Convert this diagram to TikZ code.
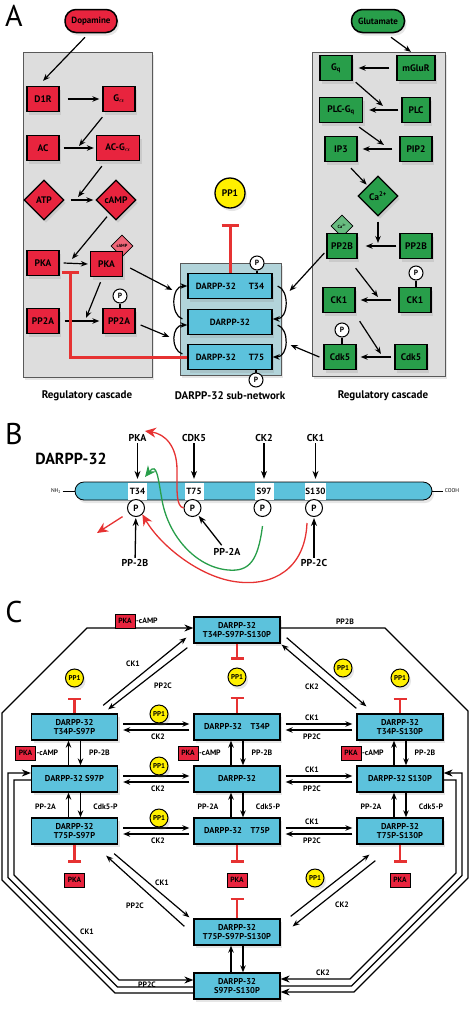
\documentclass[tikz,border=0pt]{standalone}
\usepackage{fontspec}
\setmainfont{PT Sans}
\usetikzlibrary{arrows.meta,shapes.geometric,shadows,positioning}

\definecolor{dred}{RGB}{232,36,62}
\definecolor{dgreen}{RGB}{40,158,74}
\definecolor{cblue}{RGB}{92,194,220}
\definecolor{cgray}{RGB}{221,221,221}
\definecolor{subnet}{RGB}{178,212,218}
\definecolor{pyellow}{RGB}{255,240,0}
\definecolor{ired}{RGB}{230,50,50}

\tikzset{
  shad/.style={drop shadow={opacity=0.2, shadow xshift=2pt, shadow yshift=-3pt}},
  panlab/.style={font=\fontsize{30}{30}\selectfont, inner sep=0pt},
  sublab/.style={font=\bfseries\fontsize{11}{12}\selectfont},
  cascade/.style={draw=black!65, line width=0.8pt, fill=cgray, shad},
  subbox/.style={draw=black!65, line width=0.8pt, fill=subnet, shad},
  abox/.style={draw, line width=1.3pt, minimum width=32, minimum height=25, inner sep=1pt, font=\bfseries\fontsize{9.5}{10}\selectfont, shad},
  redbox/.style={abox, fill=dred},
  grnbox/.style={abox, fill=dgreen},
  dbox/.style={abox, fill=cblue, minimum width=84, font=\bfseries\fontsize{9}{10}\selectfont},
  adia/.style={draw, line width=1.3pt, diamond, aspect=1, minimum width=40, minimum height=40, inner sep=0pt, font=\bfseries\fontsize{9.5}{10}\selectfont, shad},
  smdia/.style={draw, line width=0.8pt, diamond, aspect=1, minimum size=22, inner sep=0pt, font=\bfseries\fontsize{4.5}{4.5}\selectfont},
  pill/.style={draw, line width=1.5pt, rounded corners=11pt, minimum height=23, inner xsep=3pt, font=\bfseries\fontsize{9}{10}\selectfont, shad},
  pcirc/.style={draw, circle, fill=white, line width=1pt, inner sep=0pt, minimum size=14, font=\bfseries\fontsize{7.5}{7.5}\selectfont},
  pp1big/.style={draw, circle, fill=pyellow, line width=1.3pt, minimum size=30, inner sep=0pt, font=\bfseries\fontsize{9.5}{10}\selectfont, shad},
  inh/.style={draw=ired, line width=3pt, -{Bar[width=17pt]}},
  prot/.style={draw, line width=0.8pt, fill=cblue, rounded corners=9pt, minimum width=357, minimum height=18, inner sep=0pt, shad},
  slot/.style={fill=white, minimum width=19, minimum height=17, inner sep=0pt, font=\bfseries\fontsize{9}{9}\selectfont},
  pcircb/.style={pcirc, minimum size=17, font=\bfseries\fontsize{9}{9}\selectfont},
  kin/.style={font=\bfseries\fontsize{10}{11}\selectfont, inner sep=1pt},
  barr/.style={line width=1.3pt, -{Stealth[length=8pt,width=6pt]}},
  redarr/.style={draw=ired, line width=1.3pt, -{Stealth[length=11pt,width=10pt]}},
  grnarr/.style={draw=dgreen, line width=1.3pt, -{Stealth[length=11pt,width=10pt]}},
  cbox/.style={draw, line width=1.3pt, fill=cblue, minimum width=86, minimum height=26, inner sep=1pt, align=center, font=\bfseries\fontsize{8.5}{9}\selectfont, shad},
  pp1s/.style={draw, circle, fill=pyellow, line width=1pt, minimum size=18, inner sep=0pt, font=\bfseries\fontsize{7}{7}\selectfont, shad},
  clab/.style={font=\bfseries\fontsize{7.8}{8.5}\selectfont, inner sep=1pt},
  pkasm/.style={draw, line width=1pt, fill=dred, minimum width=20, minimum height=14, inner sep=0pt, font=\bfseries\fontsize{7.5}{7.5}\selectfont},
  cinh/.style={draw=ired, line width=2.5pt, -{Bar[width=13pt]}},
  oarr/.style={line width=1.1pt, -{Stealth[length=9pt,width=7pt]}}
}

\begin{document}
\begin{tikzpicture}[x=1pt, y=-1pt, line width=1.2pt, >={Stealth[length=7pt,width=5.5pt]}]
\useasboundingbox (0,0) rectangle (475,1015);

% A: signalling cascades
\node[panlab] (labA) at (14,16) {A};
\node[cascade, minimum width=129, minimum height=325] (lcas) at (87.5,214.5) {};
\node[cascade, minimum width=133, minimum height=324] (rcas) at (378.5,214) {};
\node[subbox, minimum width=101, minimum height=112] (sub) at (230.5,319) {};
\node[sublab] (llab) at (87,396) {Regulatory cascade};
\node[sublab] (clab) at (230,396) {DARPP-32 sub-network};
\node[sublab] (rlab) at (383,396) {Regulatory cascade};

\node[pill, fill=dred, minimum width=52] (dopa) at (91,21) {Dopamine};
\node[redbox] (d1r) at (43,99) {D1R};
\node[redbox] (galpha) at (119,99) {G\textsubscript{$\alpha$}};
\node[redbox] (ac) at (43,148) {AC};
\node[redbox, minimum width=43] (acg) at (118,148) {AC-G\textsubscript{$\alpha$}};
\node[adia, fill=dred] (atp) at (44,200) {ATP};
\node[adia, fill=dred] (camp) at (116,200) {cAMP};
\node[redbox] (pka) at (43,263) {PKA};
\node[smdia, fill=dred!70!white] (campd) at (122,246) {cAMP};
\node[redbox] (pkaa) at (106.5,264) {PKA};
\node[redbox] (pp2a) at (43,321) {PP2A};
\node[redbox] (pp2aa) at (119,321) {PP2A};
\node[pcirc] (ppp2a) at (120,296) {P};
\draw (ppp2a.south) -- (ppp2a.south |- pp2aa.north);

\node[dbox] (dt34) at (230,286) {DARPP-32\hspace{13pt}T34};
\node[dbox] (dmid) at (230,322) {DARPP-32};
\node[dbox] (dt75) at (230,357) {DARPP-32\hspace{13pt}T75};
\node[pcirc] (pdt34) at (257,263) {P};
\draw (pdt34.south) -- (pdt34.south |- dt34.north);
\node[pcirc] (pdt75) at (256,380) {P};
\draw (pdt75.north) -- (pdt75.north |- dt75.south);
\node[pp1big] (pp1a) at (230,193) {PP1};
\draw[inh] (dt34.north) -- ([shift={(0,15)}]pp1a.south);

\node[pill, fill=dgreen, minimum width=53] (glu) at (378,21) {Glutamate};
\node[grnbox] (gq) at (336,68) {G\textsubscript{q}};
\node[grnbox, minimum width=38] (mglur) at (416,68) {mGluR};
\node[grnbox, minimum width=43] (plcgq) at (341,110) {PLC-G\textsubscript{q}};
\node[grnbox, minimum width=28] (plc) at (416,110) {PLC};
\node[grnbox] (ip3) at (341,149) {IP3};
\node[grnbox] (pip2) at (416,149) {PIP2};
\node[adia, fill=dgreen] (ca) at (378,196) {Ca\textsuperscript{2+}};
\node[smdia, fill=dgreen!70!white] (cad) at (342,226) {Ca\textsuperscript{2+}};
\node[grnbox, minimum width=30] (pp2ba) at (342,246) {PP2B};
\node[grnbox] (pp2b) at (416,246) {PP2B};
\node[grnbox] (ck1a) at (339,300) {CK1};
\node[grnbox] (ck1) at (415,300) {CK1};
\node[pcirc] (pck1) at (416,273) {P};
\draw (pck1.south) -- (pck1.south |- ck1.north);
\node[grnbox] (cdk5a) at (340,357) {Cdk5};
\node[grnbox] (cdk5) at (411,357) {Cdk5};
\node[pcirc] (pcdk5) at (342,330) {P};
\draw (pcdk5.south) -- (pcdk5.south |- cdk5a.north);

\coordinate (m1) at (79,146);
\coordinate (m2) at (78,197);
\coordinate (m3) at (72,259);
\coordinate (m4) at (70,271);
\coordinate (m5) at (86,318);
\draw[->] ([shift={(-6,4)}]dopa.south) -- ([shift={(0,-5)}]d1r.north);
\draw[->] ([shift={(8,0)}]d1r.east) -- ([shift={(-3,0)}]galpha.west);
\draw[->] ([shift={(0,5)}]galpha.south west) -- (m1);
\draw[->] ([shift={(4,0)}]ac.east) -- ([shift={(-2,0)}]acg.west);
\draw[->] ([shift={(6,5)}]acg.south west) -- (m2);
\draw[->] ([shift={(6,0)}]atp.east) -- ([shift={(-2,0)}]camp.west);
\draw[->] ([shift={(-9,-4)}]camp.south) -- (m3);
\draw[->] ([shift={(4,0)}]pka.east) -- ([shift={(-2,0)}]pkaa.west);
\draw[->] ([shift={(-6,5)}]pkaa.south) -- (m5);
\draw[->] ([shift={(5,0)}]pp2a.east) -- ([shift={(-3,0)}]pp2aa.west);
\draw[->] ([shift={(7,4)}]pkaa.east) -- ([shift={(-15,4)}]dt34.west);
\draw[->] ([shift={(5,4)}]pp2aa.east) -- ([shift={(-18,15)}]dmid.west);
\draw[inh] (dt75.west) -| (m4);

\draw[->] ([shift={(-5,-3)}]dmid.west) .. controls +(-12,-4) and +(-16,0) .. (dt34.west);
\draw[->] ([shift={(-5,-3)}]dt75.west) .. controls +(-12,-4) and +(-16,0) .. ([shift={(0,3)}]dmid.west);
\draw[->] ([shift={(5,0)}]dt34.east) .. controls +(12,4) and +(16,0) .. ([shift={(0,-3)}]dmid.east);
\draw[->] ([shift={(5,3)}]dmid.east) .. controls +(12,4) and +(16,0) .. (dt75.east);

\coordinate (m6) at (383,106);
\coordinate (m7) at (384,145);
\coordinate (m8) at (378,243);
\coordinate (m9) at (378,297);
\coordinate (m10) at (381,354);
\draw[->] ([shift={(13,4)}]glu.south) -- ([shift={(-5,-3)}]mglur.north);
\draw[->] ([shift={(-7,0)}]mglur.west) -- ([shift={(6,0)}]gq.east);
\draw[->] ([shift={(3,1)}]gq.south east) -- (m6);
\draw[->] ([shift={(-3,0)}]plc.west) -- ([shift={(6,0)}]plcgq.east);
\draw[->] ([shift={(-4,4)}]plcgq.south east) -- (m7);
\draw[->] ([shift={(-7,0)}]pip2.west) -- ([shift={(5,0)}]ip3.east);
\draw[->] ([shift={(10,6)}]ip3.south) -- ([shift={(-1,-1)}]ca.north west);
\draw[->] ([shift={(0,5)}]ca.south) -- (m8);
\draw[->] ([shift={(-3,0)}]pp2b.west) -- ([shift={(8,0)}]pp2ba.east);
\draw[->] ([shift={(-2,7)}]pp2ba.west) -- ([shift={(17,5)}]dt34.east);
\draw[->] ([shift={(-2,9)}]pp2ba.south east) -- (m9);
\draw[->] ([shift={(-7,0)}]ck1.west) -- ([shift={(5,0)}]ck1a.east);
\draw[->] ([shift={(4,8)}]ck1a.south east) -- (m10);
\draw[->] ([shift={(-3,0)}]cdk5.west) -- ([shift={(4,0)}]cdk5a.east);
\draw[->] ([shift={(-4,0)}]cdk5a.west) -- ([shift={(18,-12)}]dt75.east);

% B: phosphorylation sites
\node[panlab] (labB) at (14,434) {B};
\node[font=\bfseries\fontsize{16}{17}\selectfont] (btitle) at (71,459) {DARPP-32};
\node[prot] (prot) at (253.5,491) {};
\node[font=\fontsize{5.5}{6}\selectfont, inner sep=1pt] (nh2) at (56,491) {NH\textsubscript{2}};
\node[font=\fontsize{5.5}{6}\selectfont, inner sep=1pt] (cooh) at (452,491) {COOH};
\draw[line width=0.6pt] (nh2) -- (prot);
\draw[line width=0.6pt] (prot) -- (cooh);
\foreach \n/\x/\s/\k in {t34/137.5/T34/PKA, t75/194/T75/CDK5, s97/264/S97/CK2, s130/315.5/S130/CK1} {
  \node[slot] (\n) at (\x,491) {\s};
  \node[pcircb] (p\n) at (\x-1.5,508) {P};
  \node[kin] (k\n) at (\x,438) {\k};
  \draw[barr, shorten >=3pt] (k\n) -- (\n);
}
\node[kin] (kpp2b) at (135,563) {PP-2B};
\node[kin] (kpp2a) at (227,552) {PP-2A};
\node[kin] (kpp2c) at (314,563) {PP-2C};
\draw[barr, shorten >=1pt] (kpp2b) -- (pt34);
\draw[barr, shorten >=1pt, shorten <=2pt] (kpp2a) -- (pt75);
\draw[barr, shorten >=1pt] (kpp2c) -- (ps130);
\coordinate (pkaout) at (97,533);
\coordinate (t34hit) at (145,477);
\draw[redarr, shorten <=7pt] (pt34) -- (pkaout);
\draw[redarr] (pt75.west) .. controls (176,506) and (177,492) .. (177,470) .. controls (177,446) and (165,434) .. ([shift={(-3,-7)}]kt34.east);
\draw[grnarr] ([shift={(0,9)}]ps97.south) .. controls (258,560) and (250,572) .. (228,570) .. controls (195,567) and (168,535) .. (162,500) .. controls (158,478) and (157,462) .. (t34hit);
\draw[redarr] ([shift={(-7,6)}]ps130.south) .. controls (305,570) and (272,586) .. (238,582) .. controls (200,578) and (160,545) .. (pt34.south east);

% C: state network
\node[panlab] (labC) at (14,612) {C};
\foreach \n/\x/\y/\t in {
  ctop/237/630/{DARPP-32\\T34P-S97P-S130P},
  ts97/74.5/727/{DARPP-32\\T34P-S97P},
  t34/237/727/{DARPP-32\quad T34P},
  ts130/400/727/{DARPP-32\\T34P-S130P},
  s97/74.5/779/{DARPP-32 S97P},
  d32/237/779/{DARPP-32},
  s130/400/779/{DARPP-32 S130P},
  t75s97/74.5/831/{DARPP-32\\T75P-S97P},
  t75/237/831/{DARPP-32\quad T75P},
  t75s130/400/831/{DARPP-32\\T75P-S130P},
  trip/237/932/{DARPP-32\\T75P-S97P-S130P},
  bot/237/986/{DARPP-32\\S97P-S130P}}
  \node[cbox] (\n) at (\x,\y) {\t};

\foreach \a/\b in {ts97/t34, s97/d32, t75s97/t75, t34/ts130, d32/s130, t75/t75s130} {
  \draw[->] ([shift={(5,-3)}]\a.east) -- ([shift={(-4,-3)}]\b.west);
  \draw[->] ([shift={(-4,3)}]\b.west) -- ([shift={(5,3)}]\a.east);
}
\foreach \a/\b in {ts97/s97, t34/d32, ts130/s130, s97/t75s97, d32/t75, s130/t75s130, trip/bot} {
  \draw[->] ([shift={(-6,0)}]\b.north) -- ([shift={(-6,0)}]\a.south);
  \draw[->] ([shift={(6,0)}]\a.south) -- ([shift={(6,0)}]\b.north);
}
\foreach \y/\n in {727/a, 779/b, 831/c} {
  \node[pp1s] (pph\n) at (159,\y-13) {PP1};
  \node[clab] (ckt\n) at (158,\y+10) {CK2};
  \node[clab] (cko\n) at (312,\y-9) {CK1};
  \node[clab] (ppc\n) at (312,\y+10) {PP2C};
}
\foreach \x/\n in {74.5/l, 237/m, 400/r} {
  \node[pkasm] (pkc\n) at (\x-49,753) {PKA};
  \node[clab, right=-1pt of pkc\n] (pkt\n) {-cAMP};
  \node[clab] (ppb\n) at (\x+25,753) {PP-2B};
  \node[clab] (ppa\n) at (\x-29,807) {PP-2A};
  \node[clab] (cdk\n) at (\x+31,807) {Cdk5-P};
  \node[pkasm] (pkb\n) at (\x,880) {PKA};
}
\node[pp1s] (ppul) at (74.5,678) {PP1};
\node[pp1s] (ppum) at (237,677) {PP1};
\node[pp1s] (ppur) at (400,678) {PP1};
\draw[cinh] (ts97.north) -- ([shift={(0,10)}]ppul.south);
\draw[cinh] (ctop.south) -- ([shift={(0,-8)}]ppum.north);
\draw[cinh] (t34.north) -- ([shift={(0,10)}]ppum.south);
\draw[cinh] (ts130.north) -- ([shift={(0,10)}]ppur.south);
\draw[cinh] (t75s97.south) -- ([shift={(0,-10)}]pkbl.north);
\draw[cinh] (t75.south) -- ([shift={(0,-10)}]pkbm.north);
\draw[cinh] (trip.north) -- ([shift={(0,10)}]pkbm.south);
\draw[cinh] (t75s130.south) -- ([shift={(0,-10)}]pkbr.north);

\draw[->] ([shift={(-15,-8)}]ts97.north east) -- ([shift={(-7,-6)}]ctop.south west);
\draw[->] ([shift={(-6,4)}]ctop.south west) -- ([shift={(-10,-4)}]ts97.north east);
\draw[->] ([shift={(6,-6)}]ctop.south east) -- ([shift={(10,-7)}]ts130.north west);
\draw[->] ([shift={(0,-5)}]ts130.north west) -- ([shift={(1,1)}]ctop.south east);
\draw[->] ([shift={(-4,9)}]t75s97.south east) -- ([shift={(-4,-1)}]trip.north west);
\draw[->] ([shift={(-9,8)}]trip.north west) -- ([shift={(-12,11)}]t75s97.south east);
\draw[->] ([shift={(10,-2)}]trip.north east) -- ([shift={(13,10)}]t75s130.south west);
\draw[->] ([shift={(19,16)}]t75s130.south west) -- ([shift={(12,8)}]trip.north east);
\node[clab] (dck1a) at (133,664) {CK1};
\node[clab] (dppc) at (163,686) {PP2C};
\node[clab] (dck2a) at (312,687) {CK2};
\node[pp1s] (dpp1a) at (343,668) {PP1};
\node[clab] (dck1b) at (162,883) {CK1};
\node[clab] (dppcb) at (135,906) {PP2C};
\node[pp1s] (dpp1b) at (315,878) {PP1};
\node[clab] (dck2b) at (342,905) {CK2};

% outer routes
\draw[oarr] ([shift={(0,7)}]bot.west) -- (115,993) -- (2,880) -- (2,713) -- (87,628) -- ([shift={(0,-2)}]ctop.west);
\draw[oarr] ([shift={(0,1)}]bot.west) -- (117.5,987) -- (8,877.5) -- (8,773) -- ([shift={(0,-6)}]s97.west);
\draw[oarr] ([shift={(0,1)}]s97.west) -- (14,780) -- (14,875) -- (119,980) -- ([shift={(0,-6)}]bot.west);
\draw[oarr] ([shift={(0,-2)}]ctop.east) -- (385,628) -- (468,711) -- (468,878) -- (354,992) -- ([shift={(0,6)}]bot.east);
\draw[oarr] (bot.east) -- (351.5,986) -- (462,875.5) -- (462,773) -- ([shift={(0,-6)}]s130.east);
\draw[oarr] ([shift={(0,1)}]s130.east) -- (456,780) -- (456,873) -- (350,979) -- ([shift={(0,-7)}]bot.east);
\node[pkasm] (pkctop) at (125,621) {PKA};
\node[clab, right=-1pt of pkctop] (pkttop) {-cAMP};
\node[clab] (opp2b) at (345,622) {PP2B};
\node[clab] (ock1) at (87,932) {CK1};
\node[clab] (opp2c) at (147,985) {PP2C};
\node[clab] (ock2) at (323,973) {CK2};
\end{tikzpicture}
\end{document}
